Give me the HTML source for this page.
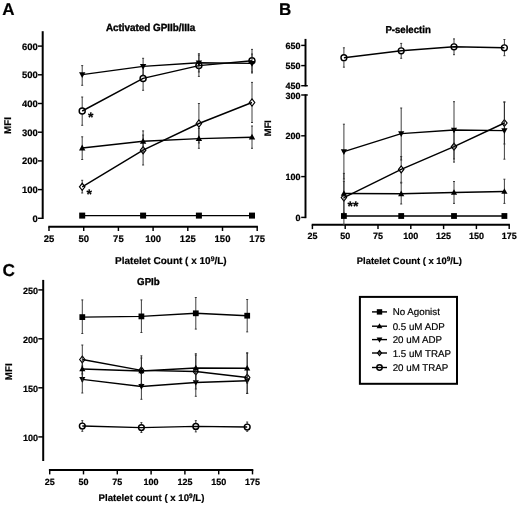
<!DOCTYPE html>
<html><head><meta charset="utf-8"><title>Figure</title>
<style>
html,body{margin:0;padding:0;background:#fff;}
body{width:520px;height:506px;overflow:hidden;}
svg{display:block;}
svg text{font-family:"Liberation Sans",sans-serif;fill:#000;text-rendering:geometricPrecision;}
</style></head><body>
<svg width="520" height="506" viewBox="0 0 520 506">
<rect width="520" height="506" fill="#fff"/>
<g id="panelA">
<text x="2.20" y="15.00" font-size="17" font-weight="bold" text-anchor="start"  stroke="#000" stroke-width="0.2">A</text>
<text transform="translate(150.60,31.30) scale(1,1.05)" font-size="9.9" font-weight="bold" text-anchor="middle"  stroke="#000" stroke-width="0.35">Activated GPIIb/IIIa</text>
<path d="M42.7,31.2V219.0" stroke="#000" stroke-width="2.0" fill="none"/>
<path d="M38.0,218.30H42.7" stroke="#000" stroke-width="1.45"/>
<text x="37.80" y="221.75" font-size="9.45" font-weight="bold" text-anchor="end"  stroke="#000" stroke-width="0.2">0</text>
<path d="M38.0,189.60H42.7" stroke="#000" stroke-width="1.45"/>
<text x="37.80" y="193.05" font-size="9.45" font-weight="bold" text-anchor="end"  stroke="#000" stroke-width="0.2">100</text>
<path d="M38.0,160.90H42.7" stroke="#000" stroke-width="1.45"/>
<text x="37.80" y="164.35" font-size="9.45" font-weight="bold" text-anchor="end"  stroke="#000" stroke-width="0.2">200</text>
<path d="M38.0,132.20H42.7" stroke="#000" stroke-width="1.45"/>
<text x="37.80" y="135.65" font-size="9.45" font-weight="bold" text-anchor="end"  stroke="#000" stroke-width="0.2">300</text>
<path d="M38.0,103.50H42.7" stroke="#000" stroke-width="1.45"/>
<text x="37.80" y="106.95" font-size="9.45" font-weight="bold" text-anchor="end"  stroke="#000" stroke-width="0.2">400</text>
<path d="M38.0,74.80H42.7" stroke="#000" stroke-width="1.45"/>
<text x="37.80" y="78.25" font-size="9.45" font-weight="bold" text-anchor="end"  stroke="#000" stroke-width="0.2">500</text>
<path d="M38.0,46.10H42.7" stroke="#000" stroke-width="1.45"/>
<text x="37.80" y="49.55" font-size="9.45" font-weight="bold" text-anchor="end"  stroke="#000" stroke-width="0.2">600</text>
<text x="0.00" y="0.00" font-size="9.8" font-weight="bold" text-anchor="middle" transform="translate(11.3,125.5) rotate(-90)" stroke="#000" stroke-width="0.2">MFI</text>
<path d="M48.3,226.7H257.90000000000003" stroke="#000" stroke-width="2.0" fill="none"/>
<path d="M49.00,226.7V231.0" stroke="#000" stroke-width="1.45"/>
<text x="49.00" y="242.00" font-size="9.5" font-weight="bold" text-anchor="middle"  stroke="#000" stroke-width="0.2">25</text>
<path d="M83.70,226.7V231.0" stroke="#000" stroke-width="1.45"/>
<text x="83.70" y="242.00" font-size="9.5" font-weight="bold" text-anchor="middle"  stroke="#000" stroke-width="0.2">50</text>
<path d="M118.40,226.7V231.0" stroke="#000" stroke-width="1.45"/>
<text x="118.40" y="242.00" font-size="9.5" font-weight="bold" text-anchor="middle"  stroke="#000" stroke-width="0.2">75</text>
<path d="M153.10,226.7V231.0" stroke="#000" stroke-width="1.45"/>
<text x="153.10" y="242.00" font-size="9.5" font-weight="bold" text-anchor="middle"  stroke="#000" stroke-width="0.2">100</text>
<path d="M187.80,226.7V231.0" stroke="#000" stroke-width="1.45"/>
<text x="187.80" y="242.00" font-size="9.5" font-weight="bold" text-anchor="middle"  stroke="#000" stroke-width="0.2">125</text>
<path d="M222.50,226.7V231.0" stroke="#000" stroke-width="1.45"/>
<text x="222.50" y="242.00" font-size="9.5" font-weight="bold" text-anchor="middle"  stroke="#000" stroke-width="0.2">150</text>
<path d="M257.20,226.7V231.0" stroke="#000" stroke-width="1.45"/>
<text x="257.20" y="242.00" font-size="9.5" font-weight="bold" text-anchor="middle"  stroke="#000" stroke-width="0.2">175</text>
<text x="115.1" y="264.2" font-size="10" font-weight="bold" stroke="#000" stroke-width="0.2">Platelet Count ( x 10<tspan dy="-3.4" font-size="6.8">9</tspan><tspan dy="3.4">/L)</tspan></text>
<path d="M82.20,97.00V125.30M81.20,97.00h2.00M81.20,125.30h2.00" stroke="#2a2a2a" stroke-width="0.9" fill="none"/>
<path d="M143.10,66.50V90.30M142.10,66.50h2.00M142.10,90.30h2.00" stroke="#2a2a2a" stroke-width="0.9" fill="none"/>
<path d="M198.90,55.00V76.40M197.90,55.00h2.00M197.90,76.40h2.00" stroke="#2a2a2a" stroke-width="0.9" fill="none"/>
<path d="M252.00,49.40V72.00M251.00,49.40h2.00M251.00,72.00h2.00" stroke="#2a2a2a" stroke-width="0.9" fill="none"/>
<circle cx="82.20" cy="111.00" r="3.00" fill="#fff" stroke="#000" stroke-width="1.45"/>
<circle cx="143.10" cy="78.40" r="3.00" fill="#fff" stroke="#000" stroke-width="1.45"/>
<circle cx="198.90" cy="65.60" r="3.00" fill="#fff" stroke="#000" stroke-width="1.45"/>
<circle cx="252.00" cy="60.80" r="3.00" fill="#fff" stroke="#000" stroke-width="1.45"/>
<polyline points="82.20,111.00 143.10,78.40 198.90,65.60 252.00,60.80" fill="none" stroke="#000" stroke-width="1.45"/>
<path d="M82.20,65.60V85.30M81.20,65.60h2.00M81.20,85.30h2.00" stroke="#2a2a2a" stroke-width="0.9" fill="none"/>
<path d="M143.10,58.30V75.00M142.10,58.30h2.00M142.10,75.00h2.00" stroke="#2a2a2a" stroke-width="0.9" fill="none"/>
<path d="M198.90,53.70V72.00M197.90,53.70h2.00M197.90,72.00h2.00" stroke="#2a2a2a" stroke-width="0.9" fill="none"/>
<path d="M252.00,54.00V73.00M251.00,54.00h2.00M251.00,73.00h2.00" stroke="#2a2a2a" stroke-width="0.9" fill="none"/>
<polygon points="79.00,72.20 85.40,72.20 82.20,78.00" fill="#000"/>
<polygon points="139.90,64.00 146.30,64.00 143.10,69.80" fill="#000"/>
<polygon points="195.70,60.40 202.10,60.40 198.90,66.20" fill="#000"/>
<polygon points="248.80,61.00 255.20,61.00 252.00,66.80" fill="#000"/>
<polyline points="82.20,74.60 143.10,66.40 198.90,62.80 252.00,63.40" fill="none" stroke="#000" stroke-width="1.45"/>
<path d="M82.20,180.30V193.00M81.20,180.30h2.00M81.20,193.00h2.00" stroke="#2a2a2a" stroke-width="0.9" fill="none"/>
<path d="M143.10,135.00V165.00M142.10,135.00h2.00M142.10,165.00h2.00" stroke="#2a2a2a" stroke-width="0.9" fill="none"/>
<path d="M198.90,103.50V143.00M197.90,103.50h2.00M197.90,143.00h2.00" stroke="#2a2a2a" stroke-width="0.9" fill="none"/>
<path d="M252.00,82.40V122.50M251.00,82.40h2.00M251.00,122.50h2.00" stroke="#2a2a2a" stroke-width="0.9" fill="none"/>
<polygon points="79.45,186.80 82.20,183.30 84.95,186.80 82.20,190.30" fill="#fff" stroke="#000" stroke-width="1.2"/>
<polygon points="140.35,150.20 143.10,146.70 145.85,150.20 143.10,153.70" fill="#fff" stroke="#000" stroke-width="1.2"/>
<polygon points="196.15,123.50 198.90,120.00 201.65,123.50 198.90,127.00" fill="#fff" stroke="#000" stroke-width="1.2"/>
<polygon points="249.25,102.50 252.00,99.00 254.75,102.50 252.00,106.00" fill="#fff" stroke="#000" stroke-width="1.2"/>
<polyline points="82.20,186.80 143.10,150.20 198.90,123.50 252.00,102.50" fill="none" stroke="#000" stroke-width="1.45"/>
<path d="M82.20,136.80V159.50M81.20,136.80h2.00M81.20,159.50h2.00" stroke="#2a2a2a" stroke-width="0.9" fill="none"/>
<path d="M143.10,130.90V152.00M142.10,130.90h2.00M142.10,152.00h2.00" stroke="#2a2a2a" stroke-width="0.9" fill="none"/>
<path d="M198.90,128.50V148.30M197.90,128.50h2.00M197.90,148.30h2.00" stroke="#2a2a2a" stroke-width="0.9" fill="none"/>
<path d="M252.00,126.00V148.30M251.00,126.00h2.00M251.00,148.30h2.00" stroke="#2a2a2a" stroke-width="0.9" fill="none"/>
<polygon points="79.00,150.40 85.40,150.40 82.20,144.60" fill="#000"/>
<polygon points="139.90,143.70 146.30,143.70 143.10,137.90" fill="#000"/>
<polygon points="195.70,141.00 202.10,141.00 198.90,135.20" fill="#000"/>
<polygon points="248.80,139.60 255.20,139.60 252.00,133.80" fill="#000"/>
<polyline points="82.20,148.00 143.10,141.30 198.90,138.60 252.00,137.20" fill="none" stroke="#000" stroke-width="1.45"/>
<rect x="79.20" y="212.60" width="6.00" height="6.00" fill="#000"/>
<rect x="140.10" y="212.60" width="6.00" height="6.00" fill="#000"/>
<rect x="195.90" y="212.60" width="6.00" height="6.00" fill="#000"/>
<rect x="249.00" y="212.60" width="6.00" height="6.00" fill="#000"/>
<polyline points="82.20,215.60 143.10,215.60 198.90,215.60 252.00,215.60" fill="none" stroke="#000" stroke-width="1.45"/>
<text x="87.90" y="121.80" font-size="14" font-weight="bold" text-anchor="start"  stroke="#000" stroke-width="0.2">*</text>
<text x="86.50" y="198.70" font-size="14" font-weight="bold" text-anchor="start"  stroke="#000" stroke-width="0.2">*</text>
</g>
<g id="panelB">
<text x="279.00" y="15.00" font-size="17" font-weight="bold" text-anchor="start"  stroke="#000" stroke-width="0.2">B</text>
<text transform="translate(408.10,33.00) scale(1,1.05)" font-size="9.6" font-weight="bold" text-anchor="middle"  stroke="#000" stroke-width="0.35">P-selectin</text>
<path d="M305.5,38.9V86.4" stroke="#000" stroke-width="1.95" fill="none"/>
<path d="M301.2,45.4H305.5" stroke="#000" stroke-width="1.45"/>
<text x="300.60" y="49.00" font-size="9.0" font-weight="bold" text-anchor="end"  stroke="#000" stroke-width="0.2">650</text>
<path d="M301.2,65.6H305.5" stroke="#000" stroke-width="1.45"/>
<text x="300.60" y="69.20" font-size="9.0" font-weight="bold" text-anchor="end"  stroke="#000" stroke-width="0.2">550</text>
<path d="M301.2,85.7H307.8" stroke="#000" stroke-width="1.45"/>
<text x="300.60" y="89.30" font-size="9.0" font-weight="bold" text-anchor="end"  stroke="#000" stroke-width="0.2">450</text>
<path d="M305.5,94.30V218.20000000000002" stroke="#000" stroke-width="1.95" fill="none"/>
<path d="M301.2,217.40H305.5" stroke="#000" stroke-width="1.45"/>
<text x="300.60" y="221.00" font-size="9.0" font-weight="bold" text-anchor="end"  stroke="#000" stroke-width="0.2">0</text>
<path d="M301.2,176.60H305.5" stroke="#000" stroke-width="1.45"/>
<text x="300.60" y="180.20" font-size="9.0" font-weight="bold" text-anchor="end"  stroke="#000" stroke-width="0.2">100</text>
<path d="M301.2,135.80H305.5" stroke="#000" stroke-width="1.45"/>
<text x="300.60" y="139.40" font-size="9.0" font-weight="bold" text-anchor="end"  stroke="#000" stroke-width="0.2">200</text>
<path d="M301.2,95.00H307.8" stroke="#000" stroke-width="1.45"/>
<text x="300.60" y="98.60" font-size="9.0" font-weight="bold" text-anchor="end"  stroke="#000" stroke-width="0.2">300</text>
<text x="0.00" y="0.00" font-size="9.4" font-weight="bold" text-anchor="middle" transform="translate(271.2,128.1) rotate(-90)" stroke="#000" stroke-width="0.2">MFI</text>
<path d="M311.7,224.8H509.8999999999999" stroke="#000" stroke-width="1.95" fill="none"/>
<path d="M312.40,224.8V229.1" stroke="#000" stroke-width="1.45"/>
<text x="312.40" y="238.80" font-size="9.0" font-weight="bold" text-anchor="middle"  stroke="#000" stroke-width="0.2">25</text>
<path d="M345.20,224.8V229.1" stroke="#000" stroke-width="1.45"/>
<text x="345.20" y="238.80" font-size="9.0" font-weight="bold" text-anchor="middle"  stroke="#000" stroke-width="0.2">50</text>
<path d="M378.00,224.8V229.1" stroke="#000" stroke-width="1.45"/>
<text x="378.00" y="238.80" font-size="9.0" font-weight="bold" text-anchor="middle"  stroke="#000" stroke-width="0.2">75</text>
<path d="M410.80,224.8V229.1" stroke="#000" stroke-width="1.45"/>
<text x="410.80" y="238.80" font-size="9.0" font-weight="bold" text-anchor="middle"  stroke="#000" stroke-width="0.2">100</text>
<path d="M443.60,224.8V229.1" stroke="#000" stroke-width="1.45"/>
<text x="443.60" y="238.80" font-size="9.0" font-weight="bold" text-anchor="middle"  stroke="#000" stroke-width="0.2">125</text>
<path d="M476.40,224.8V229.1" stroke="#000" stroke-width="1.45"/>
<text x="476.40" y="238.80" font-size="9.0" font-weight="bold" text-anchor="middle"  stroke="#000" stroke-width="0.2">150</text>
<path d="M509.20,224.8V229.1" stroke="#000" stroke-width="1.45"/>
<text x="509.20" y="238.80" font-size="9.0" font-weight="bold" text-anchor="middle"  stroke="#000" stroke-width="0.2">175</text>
<text x="356.8" y="264.0" font-size="9.42" font-weight="bold" stroke="#000" stroke-width="0.2">Platelet Count ( x 10<tspan dy="-3.3" font-size="6.5">9</tspan><tspan dy="3.3">/L)</tspan></text>
<path d="M343.90,47.80V67.20M342.90,47.80h2.00M342.90,67.20h2.00" stroke="#2a2a2a" stroke-width="0.9" fill="none"/>
<path d="M401.20,43.40V58.30M400.20,43.40h2.00M400.20,58.30h2.00" stroke="#2a2a2a" stroke-width="0.9" fill="none"/>
<path d="M454.00,38.90V54.70M453.00,38.90h2.00M453.00,54.70h2.00" stroke="#2a2a2a" stroke-width="0.9" fill="none"/>
<path d="M504.40,39.50V55.70M503.40,39.50h2.00M503.40,55.70h2.00" stroke="#2a2a2a" stroke-width="0.9" fill="none"/>
<circle cx="343.90" cy="57.70" r="2.91" fill="#fff" stroke="#000" stroke-width="1.45"/>
<circle cx="401.20" cy="50.80" r="2.91" fill="#fff" stroke="#000" stroke-width="1.45"/>
<circle cx="454.00" cy="46.80" r="2.91" fill="#fff" stroke="#000" stroke-width="1.45"/>
<circle cx="504.40" cy="47.80" r="2.91" fill="#fff" stroke="#000" stroke-width="1.45"/>
<polyline points="343.90,57.70 401.20,50.80 454.00,46.80 504.40,47.80" fill="none" stroke="#000" stroke-width="1.45"/>
<path d="M343.90,181.30V224.50M342.90,181.30h2.00M342.90,224.50h2.00" stroke="#2a2a2a" stroke-width="0.9" fill="none"/>
<path d="M401.20,156.60V182.30M400.20,156.60h2.00M400.20,182.30h2.00" stroke="#2a2a2a" stroke-width="0.9" fill="none"/>
<path d="M454.00,131.00V162.10M453.00,131.00h2.00M453.00,162.10h2.00" stroke="#2a2a2a" stroke-width="0.9" fill="none"/>
<path d="M504.40,102.00V144.00M503.40,102.00h2.00M503.40,144.00h2.00" stroke="#2a2a2a" stroke-width="0.9" fill="none"/>
<polygon points="341.23,197.60 343.90,194.20 346.57,197.60 343.90,201.00" fill="#fff" stroke="#000" stroke-width="1.2"/>
<polygon points="398.53,169.40 401.20,166.00 403.87,169.40 401.20,172.80" fill="#fff" stroke="#000" stroke-width="1.2"/>
<polygon points="451.33,146.70 454.00,143.30 456.67,146.70 454.00,150.09" fill="#fff" stroke="#000" stroke-width="1.2"/>
<polygon points="501.73,123.00 504.40,119.61 507.07,123.00 504.40,126.39" fill="#fff" stroke="#000" stroke-width="1.2"/>
<polyline points="343.90,197.60 401.20,169.40 454.00,146.70 504.40,123.00" fill="none" stroke="#000" stroke-width="1.45"/>
<path d="M343.90,124.20V179.00M342.90,124.20h2.00M342.90,179.00h2.00" stroke="#2a2a2a" stroke-width="0.9" fill="none"/>
<path d="M401.20,108.00V160.00M400.20,108.00h2.00M400.20,160.00h2.00" stroke="#2a2a2a" stroke-width="0.9" fill="none"/>
<path d="M454.00,101.70V159.00M453.00,101.70h2.00M453.00,159.00h2.00" stroke="#2a2a2a" stroke-width="0.9" fill="none"/>
<path d="M504.40,102.00V159.20M503.40,102.00h2.00M503.40,159.20h2.00" stroke="#2a2a2a" stroke-width="0.9" fill="none"/>
<polygon points="340.80,149.27 347.00,149.27 343.90,154.90" fill="#000"/>
<polygon points="398.10,131.27 404.30,131.27 401.20,136.90" fill="#000"/>
<polygon points="450.90,127.67 457.10,127.67 454.00,133.30" fill="#000"/>
<polygon points="501.30,128.27 507.50,128.27 504.40,133.90" fill="#000"/>
<polyline points="343.90,151.60 401.20,133.60 454.00,130.00 504.40,130.60" fill="none" stroke="#000" stroke-width="1.45"/>
<path d="M343.90,173.40V213.00M342.90,173.40h2.00M342.90,213.00h2.00" stroke="#2a2a2a" stroke-width="0.9" fill="none"/>
<path d="M401.20,183.00V204.00M400.20,183.00h2.00M400.20,204.00h2.00" stroke="#2a2a2a" stroke-width="0.9" fill="none"/>
<path d="M454.00,181.50V203.40M453.00,181.50h2.00M453.00,203.40h2.00" stroke="#2a2a2a" stroke-width="0.9" fill="none"/>
<path d="M504.40,179.20V203.40M503.40,179.20h2.00M503.40,203.40h2.00" stroke="#2a2a2a" stroke-width="0.9" fill="none"/>
<polygon points="340.80,195.83 347.00,195.83 343.90,190.20" fill="#000"/>
<polygon points="398.10,196.13 404.30,196.13 401.20,190.50" fill="#000"/>
<polygon points="450.90,194.83 457.10,194.83 454.00,189.20" fill="#000"/>
<polygon points="501.30,193.83 507.50,193.83 504.40,188.20" fill="#000"/>
<polyline points="343.90,193.50 401.20,193.80 454.00,192.50 504.40,191.50" fill="none" stroke="#000" stroke-width="1.45"/>
<rect x="340.99" y="213.09" width="5.82" height="5.82" fill="#000"/>
<rect x="398.29" y="213.09" width="5.82" height="5.82" fill="#000"/>
<rect x="451.09" y="213.09" width="5.82" height="5.82" fill="#000"/>
<rect x="501.49" y="213.09" width="5.82" height="5.82" fill="#000"/>
<polyline points="343.90,216.00 401.20,216.00 454.00,216.00 504.40,216.00" fill="none" stroke="#000" stroke-width="1.45"/>
<text x="347.60" y="211.30" font-size="14" font-weight="bold" text-anchor="start"  stroke="#000" stroke-width="0.2">**</text>
</g>
<g id="panelC">
<text x="2.50" y="276.10" font-size="17.3" font-weight="bold" text-anchor="start"  stroke="#000" stroke-width="0.2">C</text>
<text transform="translate(148.40,284.50) scale(1,1.04)" font-size="9.7" font-weight="bold" text-anchor="middle"  stroke="#000" stroke-width="0.35">GPIb</text>
<path d="M43.2,279.9V461" stroke="#000" stroke-width="2.0" fill="none"/>
<path d="M38.3,289.9H43.2" stroke="#000" stroke-width="1.45"/>
<text x="38.10" y="293.65" font-size="9.05" font-weight="bold" text-anchor="end"  stroke="#000" stroke-width="0.2">250</text>
<path d="M38.3,338.8H43.2" stroke="#000" stroke-width="1.45"/>
<text x="38.10" y="342.55" font-size="9.05" font-weight="bold" text-anchor="end"  stroke="#000" stroke-width="0.2">200</text>
<path d="M38.3,387.8H43.2" stroke="#000" stroke-width="1.45"/>
<text x="38.10" y="391.55" font-size="9.05" font-weight="bold" text-anchor="end"  stroke="#000" stroke-width="0.2">150</text>
<path d="M38.3,436.9H43.2" stroke="#000" stroke-width="1.45"/>
<text x="38.10" y="440.65" font-size="9.05" font-weight="bold" text-anchor="end"  stroke="#000" stroke-width="0.2">100</text>
<text x="0.00" y="0.00" font-size="9.8" font-weight="bold" text-anchor="middle" transform="translate(12.3,371.7) rotate(-90)" stroke="#000" stroke-width="0.2">MFI</text>
<path d="M48.900000000000006,470.1H253.3" stroke="#000" stroke-width="2.0" fill="none"/>
<path d="M49.70,470.1V474.4" stroke="#000" stroke-width="1.45"/>
<text x="49.70" y="485.20" font-size="9.0" font-weight="bold" text-anchor="middle"  stroke="#000" stroke-width="0.2">25</text>
<path d="M83.50,470.1V474.4" stroke="#000" stroke-width="1.45"/>
<text x="83.50" y="485.20" font-size="9.0" font-weight="bold" text-anchor="middle"  stroke="#000" stroke-width="0.2">50</text>
<path d="M117.30,470.1V474.4" stroke="#000" stroke-width="1.45"/>
<text x="117.30" y="485.20" font-size="9.0" font-weight="bold" text-anchor="middle"  stroke="#000" stroke-width="0.2">75</text>
<path d="M151.10,470.1V474.4" stroke="#000" stroke-width="1.45"/>
<text x="151.10" y="485.20" font-size="9.0" font-weight="bold" text-anchor="middle"  stroke="#000" stroke-width="0.2">100</text>
<path d="M184.90,470.1V474.4" stroke="#000" stroke-width="1.45"/>
<text x="184.90" y="485.20" font-size="9.0" font-weight="bold" text-anchor="middle"  stroke="#000" stroke-width="0.2">125</text>
<path d="M218.70,470.1V474.4" stroke="#000" stroke-width="1.45"/>
<text x="218.70" y="485.20" font-size="9.0" font-weight="bold" text-anchor="middle"  stroke="#000" stroke-width="0.2">150</text>
<path d="M252.50,470.1V474.4" stroke="#000" stroke-width="1.45"/>
<text x="252.50" y="485.20" font-size="9.0" font-weight="bold" text-anchor="middle"  stroke="#000" stroke-width="0.2">175</text>
<text x="98.6" y="501.2" font-size="9.65" font-weight="bold" stroke="#000" stroke-width="0.2">Platelet count ( x 10<tspan dy="-3.2" font-size="6.5">9</tspan><tspan dy="3.2">/L)</tspan></text>
<path d="M82.30,420.60V431.30M81.30,420.60h2.00M81.30,431.30h2.00" stroke="#2a2a2a" stroke-width="0.9" fill="none"/>
<path d="M141.40,422.60V432.50M140.40,422.60h2.00M140.40,432.50h2.00" stroke="#2a2a2a" stroke-width="0.9" fill="none"/>
<path d="M195.80,420.60V431.90M194.80,420.60h2.00M194.80,431.90h2.00" stroke="#2a2a2a" stroke-width="0.9" fill="none"/>
<path d="M247.20,422.00V431.30M246.20,422.00h2.00M246.20,431.30h2.00" stroke="#2a2a2a" stroke-width="0.9" fill="none"/>
<circle cx="82.30" cy="426.00" r="2.88" fill="#fff" stroke="#000" stroke-width="1.45"/>
<circle cx="141.40" cy="427.60" r="2.88" fill="#fff" stroke="#000" stroke-width="1.45"/>
<circle cx="195.80" cy="426.40" r="2.88" fill="#fff" stroke="#000" stroke-width="1.45"/>
<circle cx="247.20" cy="427.00" r="2.88" fill="#fff" stroke="#000" stroke-width="1.45"/>
<polyline points="82.30,426.00 141.40,427.60 195.80,426.40 247.20,427.00" fill="none" stroke="#000" stroke-width="1.45"/>
<path d="M82.30,345.00V374.00M81.30,345.00h2.00M81.30,374.00h2.00" stroke="#2a2a2a" stroke-width="0.9" fill="none"/>
<path d="M141.40,355.80V385.00M140.40,355.80h2.00M140.40,385.00h2.00" stroke="#2a2a2a" stroke-width="0.9" fill="none"/>
<path d="M195.80,353.70V389.00M194.80,353.70h2.00M194.80,389.00h2.00" stroke="#2a2a2a" stroke-width="0.9" fill="none"/>
<path d="M247.20,352.80V393.40M246.20,352.80h2.00M246.20,393.40h2.00" stroke="#2a2a2a" stroke-width="0.9" fill="none"/>
<polygon points="79.66,359.50 82.30,356.14 84.94,359.50 82.30,362.86" fill="#fff" stroke="#000" stroke-width="1.2"/>
<polygon points="138.76,370.40 141.40,367.04 144.04,370.40 141.40,373.76" fill="#fff" stroke="#000" stroke-width="1.2"/>
<polygon points="193.16,371.50 195.80,368.14 198.44,371.50 195.80,374.86" fill="#fff" stroke="#000" stroke-width="1.2"/>
<polygon points="244.56,377.50 247.20,374.14 249.84,377.50 247.20,380.86" fill="#fff" stroke="#000" stroke-width="1.2"/>
<polyline points="82.30,359.50 141.40,370.40 195.80,371.50 247.20,377.50" fill="none" stroke="#000" stroke-width="1.45"/>
<path d="M82.30,366.00V393.00M81.30,366.00h2.00M81.30,393.00h2.00" stroke="#2a2a2a" stroke-width="0.9" fill="none"/>
<path d="M141.40,373.50V399.30M140.40,373.50h2.00M140.40,399.30h2.00" stroke="#2a2a2a" stroke-width="0.9" fill="none"/>
<path d="M195.80,369.00V396.30M194.80,369.00h2.00M194.80,396.30h2.00" stroke="#2a2a2a" stroke-width="0.9" fill="none"/>
<path d="M247.20,368.00V393.40M246.20,368.00h2.00M246.20,393.40h2.00" stroke="#2a2a2a" stroke-width="0.9" fill="none"/>
<polygon points="79.23,377.10 85.37,377.10 82.30,382.66" fill="#000"/>
<polygon points="138.33,384.10 144.47,384.10 141.40,389.66" fill="#000"/>
<polygon points="192.73,380.20 198.87,380.20 195.80,385.76" fill="#000"/>
<polygon points="244.13,378.50 250.27,378.50 247.20,384.06" fill="#000"/>
<polyline points="82.30,379.40 141.40,386.40 195.80,382.50 247.20,380.80" fill="none" stroke="#000" stroke-width="1.45"/>
<path d="M82.30,357.00V381.00M81.30,357.00h2.00M81.30,381.00h2.00" stroke="#2a2a2a" stroke-width="0.9" fill="none"/>
<path d="M141.40,358.00V384.00M140.40,358.00h2.00M140.40,384.00h2.00" stroke="#2a2a2a" stroke-width="0.9" fill="none"/>
<path d="M195.80,355.00V381.00M194.80,355.00h2.00M194.80,381.00h2.00" stroke="#2a2a2a" stroke-width="0.9" fill="none"/>
<path d="M247.20,353.20V383.00M246.20,353.20h2.00M246.20,383.00h2.00" stroke="#2a2a2a" stroke-width="0.9" fill="none"/>
<polygon points="79.23,371.30 85.37,371.30 82.30,365.74" fill="#000"/>
<polygon points="138.33,373.30 144.47,373.30 141.40,367.74" fill="#000"/>
<polygon points="192.73,370.30 198.87,370.30 195.80,364.74" fill="#000"/>
<polygon points="244.13,370.50 250.27,370.50 247.20,364.94" fill="#000"/>
<polyline points="82.30,369.00 141.40,371.00 195.80,368.00 247.20,368.20" fill="none" stroke="#000" stroke-width="1.45"/>
<path d="M82.30,299.90V333.50M81.30,299.90h2.00M81.30,333.50h2.00" stroke="#2a2a2a" stroke-width="0.9" fill="none"/>
<path d="M141.40,299.90V332.50M140.40,299.90h2.00M140.40,332.50h2.00" stroke="#2a2a2a" stroke-width="0.9" fill="none"/>
<path d="M195.80,297.50V329.10M194.80,297.50h2.00M194.80,329.10h2.00" stroke="#2a2a2a" stroke-width="0.9" fill="none"/>
<path d="M247.20,299.50V331.90M246.20,299.50h2.00M246.20,331.90h2.00" stroke="#2a2a2a" stroke-width="0.9" fill="none"/>
<rect x="79.42" y="314.22" width="5.76" height="5.76" fill="#000"/>
<rect x="138.52" y="313.52" width="5.76" height="5.76" fill="#000"/>
<rect x="192.92" y="310.42" width="5.76" height="5.76" fill="#000"/>
<rect x="244.32" y="312.82" width="5.76" height="5.76" fill="#000"/>
<polyline points="82.30,317.10 141.40,316.40 195.80,313.30 247.20,315.70" fill="none" stroke="#000" stroke-width="1.45"/>
</g>
<g id="legend">
<rect x="359.9" y="296.9" width="97.1" height="86.9" fill="#fff" stroke="#000" stroke-width="2"/>
<rect x="376.80" y="309.20" width="5.40" height="5.40" fill="#000"/>
<path d="M372.0,311.9H387.0" stroke="#000" stroke-width="1.4"/>
<text x="392.70" y="315.05" font-size="9.75" font-weight="normal" text-anchor="start" stroke="#000" stroke-width="0.18">No Agonist</text>
<polygon points="376.62,328.36 382.38,328.36 379.50,323.14" fill="#000"/>
<path d="M372.0,326.2H387.0" stroke="#000" stroke-width="1.4"/>
<text x="392.70" y="329.90" font-size="9.75" font-weight="normal" text-anchor="start" stroke="#000" stroke-width="0.18">0.5 uM ADP</text>
<polygon points="376.62,337.44 382.38,337.44 379.50,342.66" fill="#000"/>
<path d="M372.0,339.6H387.0" stroke="#000" stroke-width="1.4"/>
<text x="392.70" y="343.30" font-size="9.75" font-weight="normal" text-anchor="start" stroke="#000" stroke-width="0.18">20 uM ADP</text>
<polygon points="377.52,353.00 379.50,350.48 381.48,353.00 379.50,355.52" fill="#fff" stroke="#000" stroke-width="1.2"/>
<path d="M372.0,353.0H387.0" stroke="#000" stroke-width="1.4"/>
<text x="392.70" y="356.70" font-size="9.75" font-weight="normal" text-anchor="start" stroke="#000" stroke-width="0.18">1.5 uM TRAP</text>
<circle cx="379.50" cy="367.50" r="2.70" fill="#fff" stroke="#000" stroke-width="1.45"/>
<path d="M372.0,367.5H387.0" stroke="#000" stroke-width="1.4"/>
<text x="392.70" y="371.20" font-size="9.75" font-weight="normal" text-anchor="start" stroke="#000" stroke-width="0.18">20 uM TRAP</text>
</g>
</svg></body></html>
